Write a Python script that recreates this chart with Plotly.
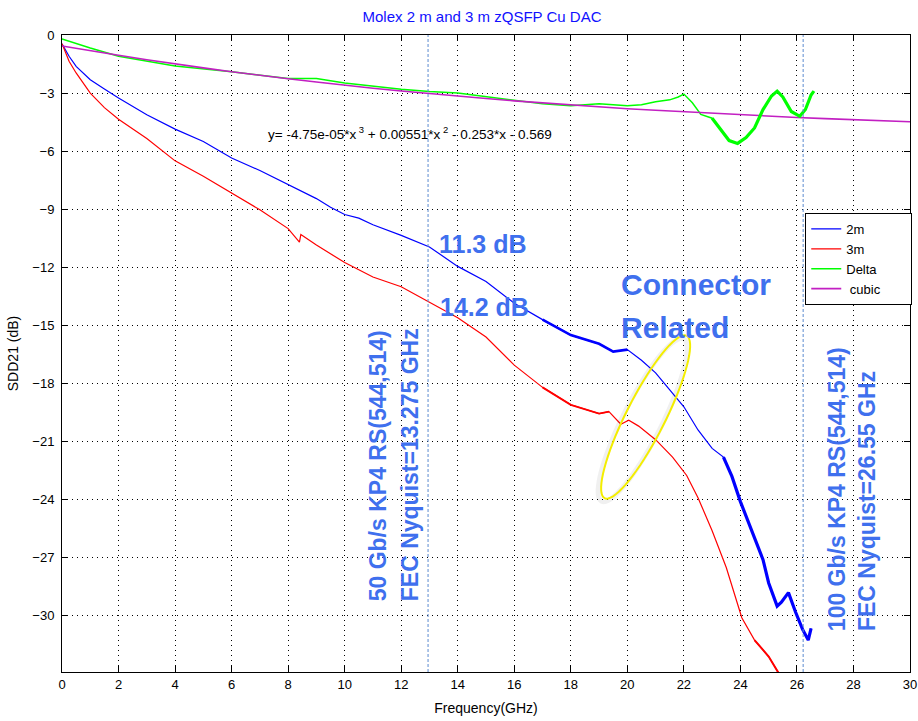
import numpy as np
import plotly.graph_objects as go

# ---------------- data ----------------
x_2m = [0, 0.25, 0.5, 1, 1.5, 2, 3, 4, 5, 6, 7, 8, 9, 9.5, 10, 10.5, 11, 12, 13, 14,
        15, 16, 17, 18, 19, 19.5, 20, 20.5, 21, 21.5, 22, 22.5, 23, 23.4, 23.7, 24.0,
        24.4, 24.8, 25.0, 25.3, 25.45, 25.7, 25.95, 26.2, 26.4, 26.5]
y_2m = [-0.45, -1.1, -1.62, -2.31, -2.79, -3.25, -4.12, -4.86, -5.5, -6.35, -7.0, -7.74,
        -8.45, -8.9, -9.27, -9.46, -9.8, -10.35, -10.95, -11.95, -12.73, -13.85, -14.7,
        -15.5, -15.95, -16.35, -16.25, -16.8, -17.45, -18.33, -19.2, -20.4, -21.35,
        -21.8, -22.8, -24.1, -25.6, -27.1, -28.3, -29.5, -29.3, -28.8, -29.8, -30.7,
        -31.25, -30.65]

x_3m = [0, 0.25, 0.5, 1, 1.5, 2, 3, 4, 5, 6, 7, 8, 8.4, 8.45, 9, 10, 11, 12, 13, 14,
        15, 16, 17, 18, 19, 19.35, 19.77, 20.05, 20.4, 21.0, 21.6, 22.1, 22.5, 23.0,
        23.5, 24.05, 24.5, 25.0, 25.35]
y_3m = [-0.45, -1.36, -1.96, -3.0, -3.75, -4.35, -5.35, -6.5, -7.3, -8.15, -9.03, -10.0,
        -10.7, -10.3, -10.85, -11.75, -12.5, -13.0, -13.8, -14.6, -15.6, -17.05, -18.2,
        -19.1, -19.55, -19.45, -20.1, -19.9, -20.2, -20.9, -21.8, -22.75, -23.9, -25.6,
        -27.5, -30.1, -31.25, -32.1, -32.95]

x_delta = [0, 0.5, 1, 2, 4, 6, 8, 9, 10, 12, 13, 14, 16, 17, 18, 19, 20, 20.5, 21, 21.5,
           21.8, 22, 22.3, 22.6, 23, 23.3, 23.6, 23.9, 24.2, 24.5, 24.8, 25.1, 25.3, 25.5,
           25.8, 26.1, 26.3, 26.5, 26.6]
y_delta = [-0.2, -0.45, -0.67, -1.1, -1.6, -1.9, -2.25, -2.25, -2.48, -2.8, -2.92, -3.0,
           -3.35, -3.55, -3.65, -3.55, -3.65, -3.6, -3.45, -3.35, -3.2, -3.05, -3.5, -4.1,
           -4.3, -4.9, -5.45, -5.6, -5.3, -4.8, -3.85, -3.15, -2.9, -3.2, -3.95, -4.2,
           -3.85, -3.1, -2.9]

# cubic fit curve, values tabulated at integer GHz
x_cubic = list(range(0, 31))
y_cubic = [-0.57, -0.82, -1.05, -1.28, -1.50, -1.70, -1.90, -2.09, -2.26, -2.43, -2.60,
           -2.75, -2.89, -3.03, -3.16, -3.28, -3.40, -3.51, -3.61, -3.71, -3.81, -3.89,
           -3.97, -4.05, -4.12, -4.19, -4.26, -4.32, -4.38, -4.43, -4.48]

series_names = ["2m", "3m", "Delta", " cubic"]
nyquist_lines = [12.95, 26.22]
x_ticks = list(range(0, 31, 2))
y_ticks = list(range(0, -31, -3))

# ---------------- styling ----------------
C_2M, C_3M, C_DELTA, C_CUBIC = "#0000ff", "#ff0000", "#00ff00", "#c21fc2"
ANN = "#3f70ee"
TICKFONT = "Liberation Sans Narrow, Arial Narrow, Liberation Sans, Arial"
BOLDFONT = "Liberation Sans, Arial"
X_RANGE = [0, 30]
Y_RANGE = [-32.9, 0]
PAD = "\u00a0" * 8  # widens the legend box like the reference


def seg(xs, ys, lo, hi):
    xx = [a for a in xs if lo <= a <= hi]
    yy = [b for a, b in zip(xs, ys) if lo <= a <= hi]
    return xx, yy


fig = go.Figure()
fig.add_trace(go.Scatter(x=x_2m, y=y_2m, mode="lines", name=series_names[0],
                         line=dict(color=C_2M, width=1.2)))
fig.add_trace(go.Scatter(x=x_3m, y=y_3m, mode="lines", name=series_names[1],
                         line=dict(color=C_3M, width=1.2)))
fig.add_trace(go.Scatter(x=x_delta, y=y_delta, mode="lines", name=series_names[2] + PAD,
                         line=dict(color=C_DELTA, width=1.5)))
fig.add_trace(go.Scatter(x=x_cubic, y=y_cubic, mode="lines", name=series_names[3],
                         line=dict(color=C_CUBIC, width=1.6)))

# thicker (noisy) stretches drawn from the same arrays
for xs, ys, col, lo, hi, w in [
    (x_2m, y_2m, C_2M, 16.9, 20.0, 2.6),
    (x_2m, y_2m, C_2M, 23.3, 26.5, 3.2),
    (x_3m, y_3m, C_3M, 17.0, 19.5, 1.8),
    (x_3m, y_3m, C_3M, 24.4, 25.35, 2.0),
    (x_delta, y_delta, C_DELTA, 23.0, 26.6, 3.2),
]:
    sx, sy = seg(xs, ys, lo, hi)
    fig.add_trace(go.Scatter(x=sx, y=sy, mode="lines", showlegend=False,
                             hoverinfo="skip", line=dict(color=col, width=w)))

# ---- layout geometry ----
W, H = 918, 721
ML, MR, MT, MB = 62, 6, 35, 49
pw, ph = W - ML - MR, H - MT - MB


def px2data(px, py):
    xd = X_RANGE[0] + (px - ML) / pw * (X_RANGE[1] - X_RANGE[0])
    yd = Y_RANGE[1] - (py - MT) / ph * (Y_RANGE[1] - Y_RANGE[0])
    return xd, yd


# dashed Nyquist markers
shapes = []
for xv in nyquist_lines:
    shapes.append(dict(type="line", xref="x", yref="paper", x0=xv, x1=xv, y0=0, y1=1,
                       line=dict(color="#5b8bd0", width=1, dash="3px,2px")))

# yellow ellipse (rotated) around the connector-related region
cxp, cyp, a, b = 647, 417, 91, 19.5
ux, uy = 82, -162
n = (ux ** 2 + uy ** 2) ** 0.5
ux, uy = ux / n, uy / n
vx, vy = -uy, ux
t = np.linspace(0, 2 * np.pi, 73)


def ellipse_path(dx=0, dy=0):
    pts = []
    for tt in t:
        px = cxp + dx + a * np.cos(tt) * ux + b * np.sin(tt) * vx
        py = cyp + dy + a * np.cos(tt) * uy + b * np.sin(tt) * vy
        pts.append(px2data(px, py))
    return "M " + " L ".join(f"{p[0]:.4f},{p[1]:.4f}" for p in pts) + " Z"


shapes.append(dict(type="path", xref="x", yref="y", path=ellipse_path(-3, 3),
                   line=dict(color="rgba(0,0,0,0.06)", width=5)))
shapes.append(dict(type="path", xref="x", yref="y", path=ellipse_path(),
                   line=dict(color="#f4ee00", width=2)))

annotations = [
    dict(x=7.22, y=-5.05, xref="x", yref="y", xanchor="left", yanchor="middle",
         text="y= -4.75e-05*x<sup> 3</sup> + 0.00551*x<sup> 2</sup> - 0.253*x - 0.569",
         showarrow=False, font=dict(family=TICKFONT, size=13.5, color="black")),
    dict(x=13.25, y=-10.79, xref="x", yref="y", xanchor="left", yanchor="middle",
         text="<b>11.3 dB</b>", showarrow=False,
         font=dict(family=BOLDFONT, size=25, color=ANN)),
    dict(x=13.29, y=-14.06, xref="x", yref="y", xanchor="left", yanchor="middle",
         text="<b>14.2 dB</b>", showarrow=False,
         font=dict(family=BOLDFONT, size=25, color=ANN)),
    dict(x=19.72, y=-12.9, xref="x", yref="y", xanchor="left", yanchor="middle",
         text="<b>Connector</b>", showarrow=False,
         font=dict(family=BOLDFONT, size=30, color=ANN)),
    dict(x=19.72, y=-15.13, xref="x", yref="y", xanchor="left", yanchor="middle",
         text="<b>Related</b>", showarrow=False,
         font=dict(family=BOLDFONT, size=30, color=ANN)),
    dict(x=11.17, y=-29.34, xref="x", yref="y", xanchor="center", yanchor="bottom",
         textangle=-90, text="<b>50 Gb/s KP4 RS(544,514)</b>", showarrow=False,
         font=dict(family=BOLDFONT, size=23, color=ANN)),
    dict(x=12.30, y=-29.34, xref="x", yref="y", xanchor="center", yanchor="bottom",
         textangle=-90, text="<b>FEC Nyquist=13.275 GHz</b>", showarrow=False,
         font=dict(family=BOLDFONT, size=23, color=ANN)),
    dict(x=27.42, y=-30.89, xref="x", yref="y", xanchor="center", yanchor="bottom",
         textangle=-90, text="<b>100 Gb/s KP4 RS(544,514)</b>", showarrow=False,
         font=dict(family=BOLDFONT, size=23, color=ANN)),
    dict(x=28.48, y=-30.89, xref="x", yref="y", xanchor="center", yanchor="bottom",
         textangle=-90, text="<b>FEC Nyquist=26.55 GHz</b>", showarrow=False,
         font=dict(family=BOLDFONT, size=23, color=ANN)),
]

axis_common = dict(
    showline=True, linecolor="black", linewidth=1, mirror="ticks",
    ticks="inside", ticklen=6, tickcolor="black", tickwidth=1,
    showgrid=True, gridcolor="black", gridwidth=1, griddash="1px,4px",
    zeroline=False, automargin=False, ticklabeloverflow="allow",
    tickfont=dict(family=TICKFONT, size=13, color="black"),
)

fig.update_layout(
    width=W, height=H,
    margin=dict(l=ML, r=MR, t=MT, b=MB, pad=0),
    paper_bgcolor="white", plot_bgcolor="white",
    title=dict(text="Molex 2 m and 3 m zQSFP Cu DAC", x=482 / W, xanchor="center",
               y=1 - 17 / H, yanchor="middle", xref="container", yref="container",
               font=dict(family=BOLDFONT, size=15, color="#1010ff")),
    xaxis=dict(axis_common, range=X_RANGE, tickvals=x_ticks,
               title=dict(text="Frequency(GHz)", standoff=12,
                          font=dict(family=TICKFONT, size=14, color="black"))),
    yaxis=dict(axis_common, range=Y_RANGE, tickvals=y_ticks, ticklabelstandoff=4,
               title=dict(text="SDD21 (dB)", standoff=10,
                          font=dict(family=TICKFONT, size=14, color="black"))),
    legend=dict(x=(807 - ML) / pw, y=(MT + ph - 213) / ph, xanchor="left", yanchor="top",
                bgcolor="white", bordercolor="black", borderwidth=1,
                font=dict(family=TICKFONT, size=13, color="black"),
                tracegroupgap=0, itemwidth=30),
    shapes=shapes,
    annotations=annotations,
    showlegend=True,
)

fig.write_html("out.html")
